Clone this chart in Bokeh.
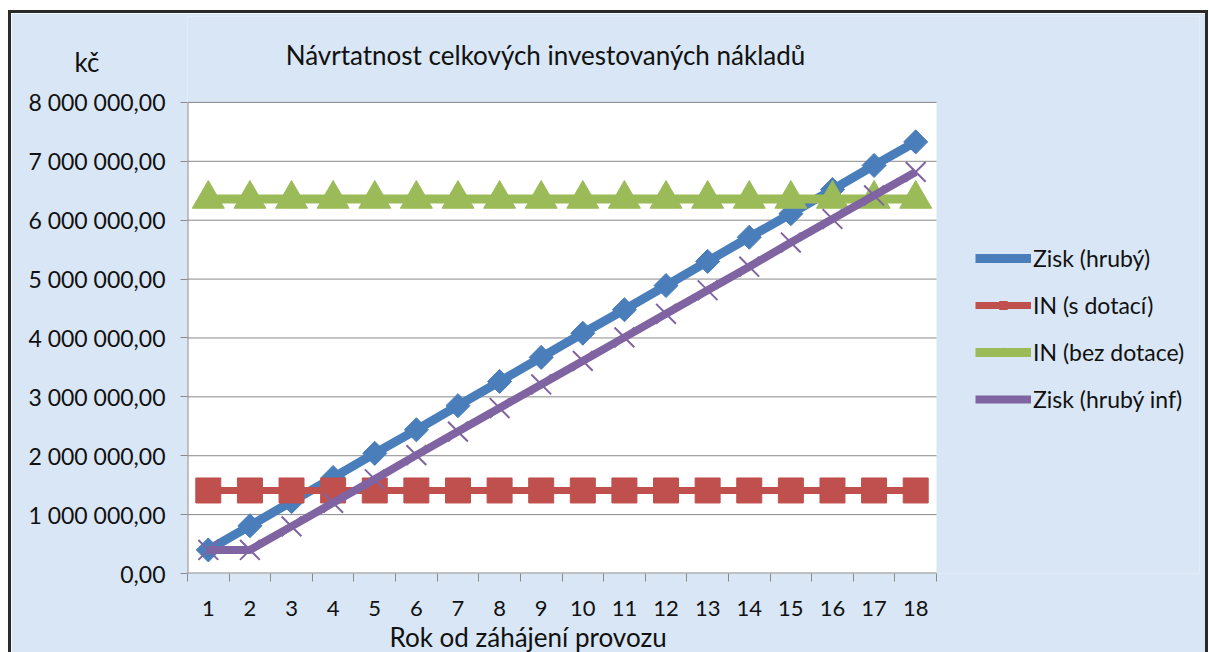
from bokeh.plotting import figure
from bokeh.models import FixedTicker, Legend, LegendItem, Title, Label, LinearAxis
from bokeh.embed import file_html
from bokeh.resources import INLINE

years = list(range(1, 19))
year_labels = [str(y) for y in years]
zisk_hruby = [400000, 810000, 1220000, 1630000, 2040000, 2440000, 2850000, 3260000, 3670000,
              4080000, 4480000, 4890000, 5300000, 5710000, 6110000, 6520000, 6930000, 7330000]
in_s_dotaci = [1410000] * 18
in_bez_dotace = [6360000] * 18
zisk_hruby_inf = [400000, 400000, 800000, 1200000, 1600000, 2010000, 2410000, 2810000, 3210000,
                  3610000, 4010000, 4410000, 4810000, 5210000, 5620000, 6020000, 6420000, 6820000]
y_ticks = [0, 1000000, 2000000, 3000000, 4000000, 5000000, 6000000, 7000000, 8000000]
y_tick_labels = ["0,00", "1 000 000,00", "2 000 000,00", "3 000 000,00", "4 000 000,00",
                 "5 000 000,00", "6 000 000,00", "7 000 000,00", "8 000 000,00"]
series_names = ["Zisk (hrubý)", "IN (s dotací)", "IN (bez dotace)", "Zisk (hrubý inf)"]
title_text = "Návrtatnost celkových investovaných nákladů"
y_unit = "kč"
x_title = "Rok od záhájení provozu"

FONT = "Lato"
BG = "#d8e6f5"
GRID = "#8a8a8a"
INK = "#111111"

# ---- layout in page pixels ----
ORIGIN_X, ORIGIN_Y = 11, 13            # canvas position on the page
CANVAS_W, CANVAS_H = 1194, 639
CANVAS_H_DRAWN = CANVAS_H - 4          # height the canvas is actually drawn at
PLOT_L, PLOT_R, PLOT_T, PLOT_B = 187, 936, 103, 580   # white plotting area
B_LEFT = PLOT_L - ORIGIN_X
B_BOTTOM = ORIGIN_Y + CANVAS_H_DRAWN - PLOT_B
B_TOP, B_RIGHT = 3, 6
FRAME_W = CANVAS_W - B_LEFT - B_RIGHT
FRAME_H = CANVAS_H_DRAWN - B_TOP - B_BOTTOM

x_lo, x_hi = years[0] - 0.5, years[-1] + 0.5
y_lo, y_hi = y_ticks[0], y_ticks[-1]
PX_X = (PLOT_R - PLOT_L) / (x_hi - x_lo)
PX_Y = (PLOT_B - PLOT_T) / (y_hi - y_lo)
x_end = x_lo + FRAME_W / PX_X
y_end = y_lo + FRAME_H / PX_Y


def page_to_data(px, py):
    return x_lo + (px - PLOT_L) / PX_X, y_lo + (PLOT_B - py) / PX_Y


p = figure(width=CANVAS_W, height=CANVAS_H, output_backend="svg", toolbar_location=None,
           x_range=(x_lo, x_end), y_range=(y_lo, y_end),
           min_border_left=B_LEFT, min_border_right=B_RIGHT, min_border_top=B_TOP,
           min_border_bottom=B_BOTTOM,
           border_fill_color=BG, background_fill_color=BG)
p.styles = {"margin-top": f"{ORIGIN_Y}px", "margin-left": f"{ORIGIN_X}px",
            "box-shadow": "0 0 0 3px #2a2a2a"}
p.outline_line_color = None
p.xgrid.grid_line_color = None
p.ygrid.grid_line_color = None

# white plotting area, gridlines, axis lines
p.quad(left=[x_lo], right=[x_hi], bottom=[y_lo], top=[y_hi], fill_color="white", line_color=None)
p.segment(x0=[x_lo] * len(y_ticks), x1=[x_hi] * len(y_ticks), y0=y_ticks, y1=y_ticks,
          line_color=GRID, line_width=[2] + [1] * (len(y_ticks) - 1))
p.segment(x0=[x_lo], x1=[x_lo], y0=[y_lo], y1=[y_hi], line_color=GRID, line_width=2)

# title inside the (extended) frame
tx, ty = page_to_data(545, 55)
p.add_layout(Label(x=tx, y=ty, text=title_text, text_font=FONT, text_font_size="26px",
                   text_color=INK, text_align="center", text_baseline="middle"))

# x-axis title
p.add_layout(Title(text=x_title, text_font=FONT, text_font_size="26px", text_font_style="normal",
                   text_color=INK, align="left", offset=389 - PLOT_L, standoff=0), "below")

# axes
p.xaxis.ticker = FixedTicker(ticks=years, minor_ticks=[y - 0.5 for y in years] + [x_hi])
p.xaxis.major_label_overrides = {y: l for y, l in zip(years, year_labels)}
p.xaxis.axis_line_color = None
p.xaxis.major_tick_out = 0
p.xaxis.major_tick_in = 0
p.xaxis.minor_tick_out = 8
p.xaxis.minor_tick_in = 0
p.xaxis.minor_tick_line_color = GRID
p.xaxis.major_label_standoff = 19
p.xaxis.major_label_text_font_size = "22px"
p.yaxis.ticker = FixedTicker(ticks=y_ticks)
p.yaxis.major_label_overrides = {t: l for t, l in zip(y_ticks, y_tick_labels)}
p.yaxis.axis_line_color = None
p.yaxis.major_tick_out = 7
p.yaxis.major_tick_in = 0
p.yaxis.minor_tick_line_color = None
p.yaxis.major_label_standoff = 15
p.yaxis.major_label_text_font_size = "23px"
for ax in (p.xaxis, p.yaxis):
    ax.major_tick_line_color = GRID
    ax.major_label_text_font = FONT
    ax.major_label_text_color = INK

# unit label "kč" above the value labels
_, y_unit_pos = page_to_data(0, 62)
y_unit_pos = round(y_unit_pos)
unit_axis = LinearAxis(ticker=FixedTicker(ticks=[y_unit_pos]),
                       major_label_overrides={y_unit_pos: y_unit},
                       axis_line_color=None, major_tick_line_color=None,
                       minor_tick_line_color=None, major_tick_out=0, major_tick_in=0,
                       major_label_standoff=-74, major_label_text_font=FONT,
                       major_label_text_font_size="26px", major_label_text_color=INK)
p.add_layout(unit_axis, "left")

# series
r1l = p.line(years, zisk_hruby, line_color="#4a7ebb", line_width=9)
r1m = p.scatter(years, zisk_hruby, marker="square", angle=45, angle_units="deg", size=17,
                fill_color="#4a7ebb", line_color="#4a7ebb")
r2l = p.line(years, in_s_dotaci, line_color="#c0504d", line_width=7)
r2m = p.scatter(years, in_s_dotaci, marker="square", size=25, fill_color="#c0504d", line_color="#c0504d")
r3l = p.line(years, in_bez_dotace, line_color="#9bbb59", line_width=9)
r3m = p.scatter(years, in_bez_dotace, marker="triangle", size=32, fill_color="#9bbb59", line_color="#9bbb59")
r4l = p.line(years, zisk_hruby_inf, line_color="#8064a2", line_width=8)
r4m = p.scatter(years, zisk_hruby_inf, marker="x", size=28, line_color="#8064a2", line_width=2)

legend = Legend(items=[LegendItem(label=series_names[0], renderers=[r1l, r1m]),
                       LegendItem(label=series_names[1], renderers=[r2l, r2m]),
                       LegendItem(label=series_names[2], renderers=[r3l, r3m]),
                       LegendItem(label=series_names[3], renderers=[r4l, r4m])],
                location=(975 - PLOT_L, PLOT_B - 420), margin=0, padding=0, spacing=19,
                glyph_width=56, glyph_height=20, label_height=20, label_standoff=2,
                label_text_font=FONT, label_text_font_size="23px", label_text_color=INK,
                border_line_color=None, background_fill_alpha=0)
p.add_layout(legend, "center")

open("out.html", "w").write(file_html(p, INLINE))
